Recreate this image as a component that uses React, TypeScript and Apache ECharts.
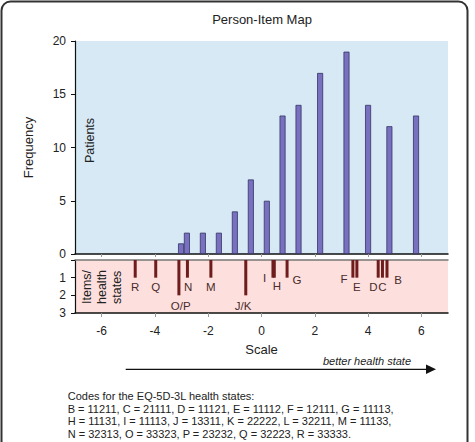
import React, { useEffect, useRef } from "react";
import * as echarts from "echarts";

// Upper panel: patient distribution
const patientScale = [-3.02, -2.8, -2.2, -1.6, -1.0, -0.4, 0.2, 0.79, 1.39, 2.2, 3.19, 4.0, 4.8, 5.8];
const patientFreq = [1, 2, 2, 2, 4, 7, 5, 13, 14, 17, 19, 14, 12, 13];

// Lower panel: items / health states
const itemNames = ["R", "Q", "O/P", "N", "M", "J/K", "I", "H", "G", "F", "E", "D", "C", "B"];
const itemScale = [-4.74, -3.97, -3.1, -2.78, -1.9, -0.59, 0.43, 0.48, 0.96, 3.43, 3.58, 4.38, 4.54, 4.71];
const itemCount = [1, 1, 2, 1, 1, 2, 1, 1, 1, 1, 1, 1, 1, 1];

// Axis ticks
const xTicks = [-6, -4, -2, 0, 2, 4, 6];

const codeLines = [
  "Codes for the EQ-5D-3L health states:",
  "B = 11211, C = 21111, D = 11121, E = 11112, F = 12111, G = 11113,",
  "H = 11131, I = 11113, J = 13311, K = 22222, L = 32211, M = 11133,",
  "N = 32313, O = 33323, P = 23232, Q = 32223, R = 33333.",
];

// label placement offsets (style)
const itemLabelOffset: Record<string, [number, number]> = {
  R: [0, 1],
  Q: [0, 1],
  "O/P": [1.8, 2.7],
  N: [0.6, 1],
  M: [0, 1],
  "J/K": [-2.7, 2.7],
  I: [-8.4, -8],
  H: [2.5, 0.6],
  G: [9.8, -6],
  F: [-8.9, -6.4],
  E: [0, 1],
  D: [-4.9, 1.5],
  C: [0, 1.5],
  B: [11, -5.4],
};

const FONT = "Liberation Sans, Arial, sans-serif";

export default function App() {
  const ref = useRef<HTMLDivElement>(null);
  useEffect(() => {
    if (!ref.current) return;
    const chart = echarts.init(ref.current, undefined, { renderer: "svg" });
    const option: any = {
      animation: false,
      textStyle: { fontFamily: FONT },
      grid: [
        { left: 75, top: 41, width: 373, height: 213, show: true, backgroundColor: "#d6e9f5", borderWidth: 0 },
        { left: 75, top: 260, width: 373, height: 53, show: true, backgroundColor: "#fde0de", borderWidth: 0 },
      ],
      xAxis: [
        {
          type: "value", gridIndex: 0, min: -7, max: 7,
          axisLine: { show: true, onZero: false, lineStyle: { color: "#111", width: 1.5 } },
          axisTick: { show: true, length: 3, customValues: xTicks, lineStyle: { color: "#999" } },
          axisLabel: { show: false },
          splitLine: { show: false },
        },
        {
          type: "value", gridIndex: 1, min: -7, max: 7, position: "bottom",
          axisLine: { show: true, onZero: false, lineStyle: { color: "#111", width: 1.5 } },
          axisTick: { show: true, length: 4, customValues: xTicks, lineStyle: { color: "#999" } },
          axisLabel: { show: true, customValues: xTicks, fontSize: 12, color: "#222", margin: 12, fontFamily: FONT },
          splitLine: { show: false },
          name: "Scale", nameLocation: "middle", nameGap: 30,
          nameTextStyle: { fontSize: 13, color: "#222", fontFamily: FONT },
        },
        {
          type: "value", gridIndex: 1, min: -7, max: 7, position: "top",
          axisLine: { show: true, onZero: false, lineStyle: { color: "#777", width: 1.5 } },
          axisTick: { show: false },
          axisLabel: { show: false },
          splitLine: { show: false },
        },
      ],
      yAxis: [
        {
          type: "value", gridIndex: 0, min: 0, max: 20, interval: 5, position: "left",
          axisLine: { show: true, onZero: false, lineStyle: { color: "#111", width: 1.2 } },
          axisTick: { show: true, length: 4, lineStyle: { color: "#111" } },
          axisLabel: { fontSize: 12, color: "#222", margin: 9, fontFamily: FONT },
          splitLine: { show: false },
          name: "Frequency", nameLocation: "middle", nameGap: 40,
          nameTextStyle: { fontSize: 13, color: "#222", fontFamily: FONT },
        },
        {
          type: "value", gridIndex: 1, min: 0, max: 3, interval: 1, inverse: true, position: "left",
          axisLine: { show: true, onZero: false, lineStyle: { color: "#111", width: 1.2 } },
          axisTick: { show: true, length: 4, lineStyle: { color: "#111" } },
          axisLabel: {
            fontSize: 12, color: "#222", margin: 9, fontFamily: FONT,
            formatter: (v: number) => (v === 0 ? "" : String(v)),
          },
          splitLine: { show: false },
        },
      ],
      series: [
        {
          type: "bar", xAxisIndex: 0, yAxisIndex: 0, barWidth: 6,
          itemStyle: { color: "#7a70c0", borderColor: "#343466", borderWidth: 0.8 },
          data: patientScale.map((x, i) => [x, patientFreq[i]]),
        },
        {
          type: "bar", xAxisIndex: 1, yAxisIndex: 1, barWidth: 3,
          itemStyle: { color: "#6e1c1c" },
          label: {
            show: true, position: "bottom", distance: 2, formatter: "{b}",
            fontSize: 11.5, color: "#4a2a2a", fontFamily: FONT,
          },
          data: itemScale.map((x, i) => ({
            name: itemNames[i],
            value: [x, itemCount[i]],
            label: { offset: itemLabelOffset[itemNames[i]] || [0, 0] },
          })),
        },
      ],
      graphic: [
        {
          type: "rect", shape: { x: 1.5, y: 1.5, width: 466, height: 460, r: 9 },
          style: { fill: "none", stroke: "#333", lineWidth: 2 }, silent: true,
        },
        {
          type: "text", x: 262, y: 19,
          style: { text: "Person-Item Map", fontSize: 13, fontFamily: FONT, fill: "#222", align: "center", verticalAlign: "middle" },
        },
        {
          type: "text", x: 90, y: 140.5, rotation: Math.PI / 2,
          style: { text: "Patients", fontSize: 12.5, fontFamily: FONT, fill: "#222", align: "center", verticalAlign: "middle" },
        },
        {
          type: "text", x: 87, y: 304, rotation: Math.PI / 2,
          style: { text: "Items/", fontSize: 12.5, fontFamily: FONT, fill: "#222", align: "left", verticalAlign: "middle" },
        },
        {
          type: "text", x: 102, y: 304, rotation: Math.PI / 2,
          style: { text: "health", fontSize: 12.5, fontFamily: FONT, fill: "#222", align: "left", verticalAlign: "middle" },
        },
        {
          type: "text", x: 117, y: 304, rotation: Math.PI / 2,
          style: { text: "states", fontSize: 12.5, fontFamily: FONT, fill: "#222", align: "left", verticalAlign: "middle" },
        },
        {
          type: "line", shape: { x1: 125.7, y1: 369.3, x2: 428, y2: 369.3 },
          style: { stroke: "#111", lineWidth: 1.2 },
        },
        {
          type: "polygon", shape: { points: [[426, 364.5], [436, 369.3], [426, 374.1]] },
          style: { fill: "#111" },
        },
        {
          type: "text", x: 411, y: 361,
          style: { text: "better health state", fontSize: 11, fontStyle: "italic", fontFamily: FONT, fill: "#222", align: "right", verticalAlign: "middle" },
        },
        {
          type: "text", x: 67.7, y: 389.7,
          style: {
            text: codeLines.join("\n"), fontSize: 11, lineHeight: 12.6, fontFamily: FONT,
            fill: "#222", align: "left", verticalAlign: "top",
          },
        },
      ],
    };
    chart.setOption(option);
    return () => chart.dispose();
  }, []);
  return (
    <div
      ref={ref}
      style={{ position: "absolute", left: 0, top: 0, width: 475, height: 442, background: "#fff" }}
    />
  );
}
